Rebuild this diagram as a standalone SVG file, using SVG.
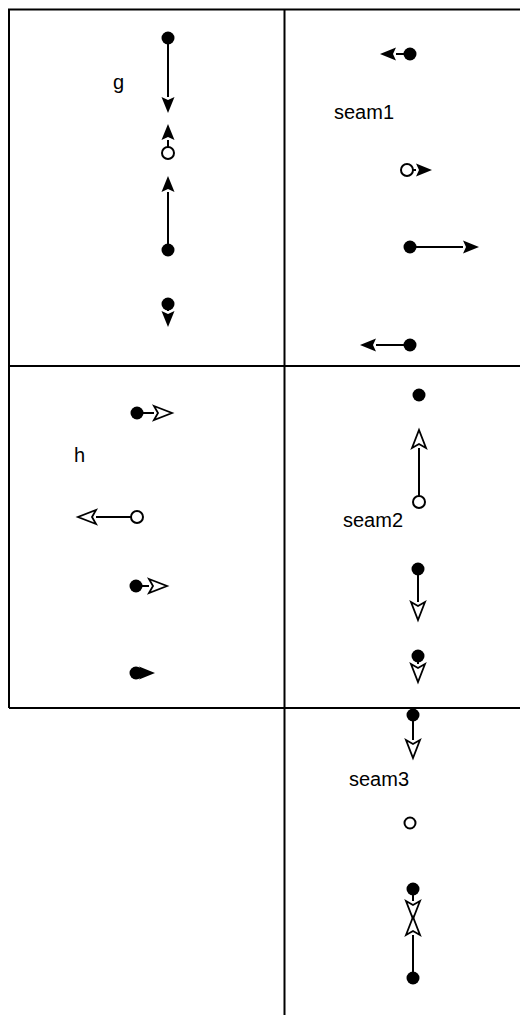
<svg xmlns="http://www.w3.org/2000/svg" width="520" height="1017" viewBox="0 0 520 1017">
<style>
.frame{stroke:#000;stroke-width:2;fill:none}
.edge{stroke:#000;stroke-width:2;fill:none}
.dot{fill:#000}
.ring{fill:#fff;stroke:#000;stroke-width:2}
.lbl{font-family:"Liberation Sans",Arial,sans-serif;font-size:20px;fill:#000}
</style>
<defs>
<marker id="af" markerUnits="userSpaceOnUse" markerWidth="20" markerHeight="16" refX="0" refY="7" orient="auto" overflow="visible">
<path d="M0,0.5 L16,7 L0,13.5 L3,7 Z" fill="#000"/>
</marker>
<marker id="ao" markerUnits="userSpaceOnUse" markerWidth="20" markerHeight="16" refX="0" refY="7" orient="auto" overflow="visible">
<path d="M0,0 L18,7 L0,14 L4,7 Z" fill="#fff" stroke="#000" stroke-width="1.8"/>
</marker>
</defs>
<g id="frames">
<path class="frame" d="M9,708 V9.5 H520 M284.5,9.5 V1015 M9,366 H520 M9,708 H520"/>
</g>
<g id="labels">
<text class="lbl" x="113" y="89">g</text>
<text class="lbl" x="334" y="119">seam1</text>
<text class="lbl" x="74" y="462">h</text>
<text class="lbl" x="343" y="527">seam2</text>
<text class="lbl" x="349" y="786">seam3</text>
</g>
<g id="g1"><circle class="dot" cx="168" cy="38" r="6.5"/></g>
<g id="g2"><circle class="ring" cx="168" cy="153" r="6"/></g>
<g id="g3"><circle class="dot" cx="168" cy="250" r="6.5"/></g>
<g id="g4"><circle class="dot" cx="168" cy="304" r="6.5"/></g>
<g id="s1"><circle class="dot" cx="410" cy="54" r="6.5"/></g>
<g id="s2"><circle class="ring" cx="407" cy="170" r="6"/></g>
<g id="s3"><circle class="dot" cx="410" cy="247" r="6.5"/></g>
<g id="s4"><circle class="dot" cx="410" cy="345" r="6.5"/></g>
<g id="h1"><circle class="dot" cx="137" cy="413" r="6.5"/></g>
<g id="h2"><circle class="ring" cx="137" cy="517" r="6"/></g>
<g id="h3"><circle class="dot" cx="136" cy="586" r="6.5"/></g>
<g id="h4"><circle class="dot" cx="136" cy="673" r="6.5"/></g>
<g id="t1"><circle class="dot" cx="419" cy="395" r="6.5"/></g>
<g id="t2"><circle class="ring" cx="419" cy="502" r="6"/></g>
<g id="t3"><circle class="dot" cx="418" cy="569" r="6.5"/></g>
<g id="t4"><circle class="dot" cx="418" cy="656" r="6.5"/></g>
<g id="u1"><circle class="dot" cx="413" cy="715" r="6.5"/></g>
<g id="u2"><circle class="ring" cx="410" cy="823" r="5.5"/></g>
<g id="u3"><circle class="dot" cx="413" cy="889" r="6.5"/></g>
<g id="u4"><circle class="dot" cx="413" cy="978" r="6.5"/></g>
<g id="connectors">
<path class="edge" d="M168,44 V97" marker-end="url(#af)"/>
<path class="edge" d="M168,147 V140" marker-end="url(#af)"/>
<path class="edge" d="M168,244 V192" marker-end="url(#af)"/>
<path class="edge" d="M168,308 V311" marker-end="url(#af)"/>
<path class="edge" d="M404,54 H396" marker-end="url(#af)"/>
<path class="edge" d="M412,170 H416" marker-end="url(#af)"/>
<path class="edge" d="M416,247 H463" marker-end="url(#af)"/>
<path class="edge" d="M404,345 H376" marker-end="url(#af)"/>
<path class="edge" d="M143,413 H154" marker-end="url(#ao)"/>
<path class="edge" d="M131,517 H96" marker-end="url(#ao)"/>
<path class="edge" d="M142,586 H149" marker-end="url(#ao)"/>
<path class="edge" d="M136,673 H139" marker-end="url(#af)"/>
<path class="edge" d="M419,496 V448" marker-end="url(#ao)"/>
<path class="edge" d="M418,575 V602" marker-end="url(#ao)"/>
<path class="edge" d="M418,662 V664" marker-end="url(#ao)"/>
<path class="edge" d="M413,721 V740" marker-end="url(#ao)"/>
<path class="edge" d="M413,895 V901" marker-end="url(#ao)"/>
<path class="edge" d="M413,972 V935" marker-end="url(#ao)"/>
</g>
</svg>
